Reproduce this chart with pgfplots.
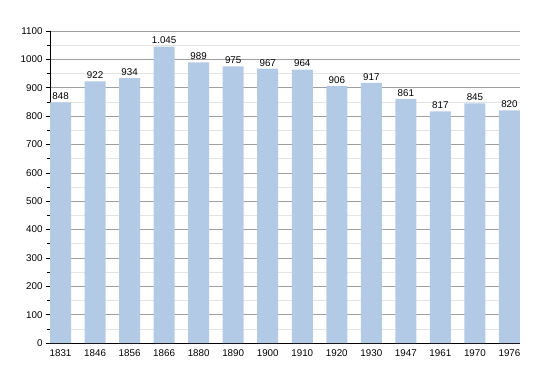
\documentclass[border=0pt]{standalone}
\usepackage{fontspec}
\setmainfont{Liberation Sans}
\usepackage{pgfplots}
\pgfplotsset{compat=1.18}
\definecolor{barblue}{RGB}{178,202,229}
\begin{document}
\begin{tikzpicture}
\useasboundingbox (0pt,0pt) rectangle (550pt,373pt);
\begin{axis}[
  at={(50pt,30pt)}, anchor=south west,
  scale only axis, width=470pt, height=312pt,
  xmin=-0.305, xmax=13.305, ymin=0, ymax=1100,
  axis lines*=left,
  axis line style={black, line width=0.9pt},
  xtick=data,
  xticklabels={1831,1846,1856,1866,1880,1890,1900,1910,1920,1930,1947,1961,1970,1976},
  xtick style={draw=none},
  ytick={0,100,...,1100},
  minor y tick num=1,
  tick align=outside,
  major tick length=4pt, minor tick length=3pt,
  ytick style={black, line width=0.6pt},
  ymajorgrids, yminorgrids,
  major grid style={gray!75, line width=0.6pt},
  minor grid style={gray!22, line width=0.6pt},
  /pgf/number format/assume math mode=true,
  yticklabel style={/pgf/number format/1000 sep={}, font=\fontsize{9.8}{11}\selectfont},
  xticklabel style={font=\fontsize{9.8}{11}\selectfont, yshift=1pt},
  ybar, bar width=21pt,
  nodes near coords,
  every node near coord/.append style={font=\fontsize{9.8}{11}\selectfont, black, /pgf/number format/1000 sep={.}, yshift=-1pt},
  clip=false,
]
\addplot[fill=barblue, draw=none] coordinates {
(0,848) (1,922) (2,934) (3,1045) (4,989) (5,975) (6,967) (7,964) (8,906) (9,917) (10,861) (11,817) (12,845) (13,820)};
\end{axis}
\end{tikzpicture}
\end{document}
